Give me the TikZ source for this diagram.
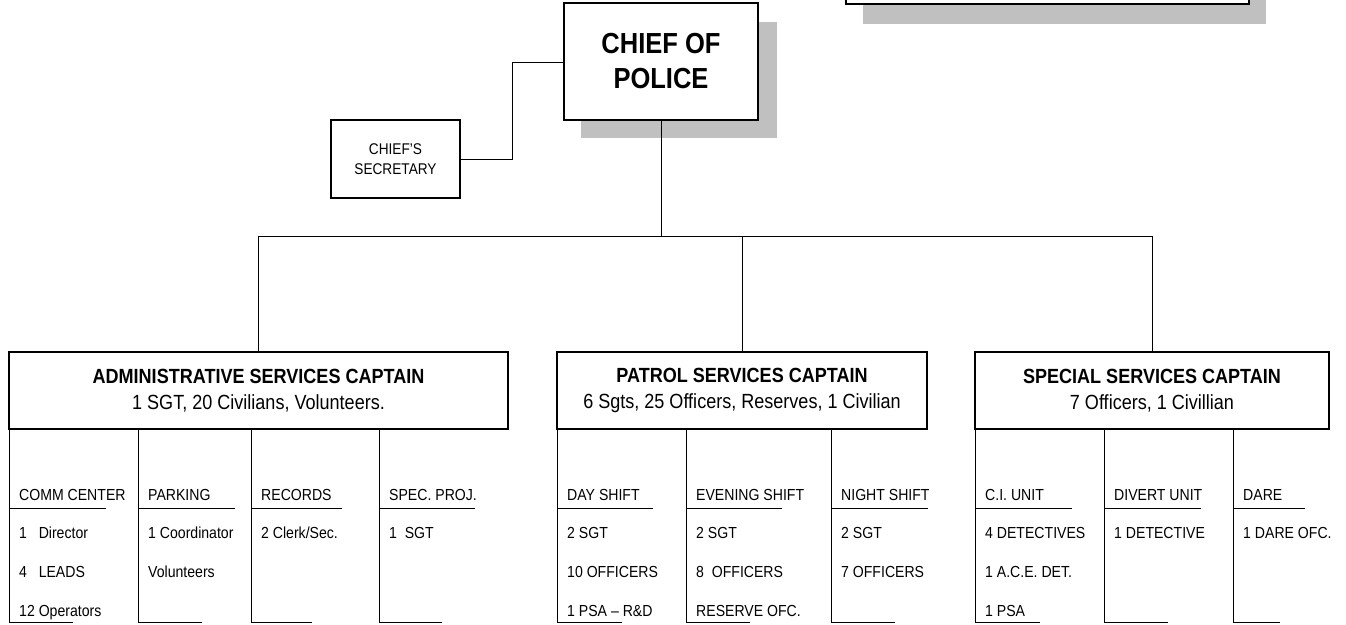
\documentclass[tikz,border=0pt]{standalone}
\usepackage{fontspec}
\setmainfont{Liberation Sans}[FakeStretch=0.88]
\definecolor{shadowgray}{RGB}{192,192,192}
\tikzset{
  box/.style={draw, line width=1.3pt, fill=white, align=center, inner sep=0pt},
  wire/.style={line width=0.9pt},
  small/.style={font=\fontsize{16}{18}\selectfont},
  item/.style={small, anchor=base west, inner sep=0pt},
  capbox/.style={box, minimum height=77, font=\fontsize{20.5}{26}\selectfont},
}

\begin{document}
\begin{tikzpicture}[x=1pt,y=-1pt]
  \clip (0,0) rectangle (1346,624);
  \fill[white] (0,0) rectangle (1346,624);
  % shadows
  \fill[shadowgray] (863,-20) rectangle (1266,24);
  \fill[shadowgray] (581,22) rectangle (777,138);
  % box at the top, cut off
  \draw[line width=1.3pt, fill=white] (846,-30) rectangle (1249,4);

  \node[box, minimum width=194, minimum height=117, font=\bfseries\fontsize{29}{35}\selectfont] (chief) at (661,61.5) {CHIEF OF\\POLICE};
  \node[box, minimum width=129, minimum height=78, font=\fontsize{15.5}{20}\selectfont] (sec) at (395.5,159) {CHIEF'S\\SECRETARY};

  \coordinate (secjoin) at (512,62);
  \draw[wire] (sec.east) -| (secjoin) -- (secjoin -| chief.west);

  % captains
  \node[capbox, minimum width=499] (admin) at (258.5,390.5) {\textbf{ADMINISTRATIVE SERVICES CAPTAIN}\\1 SGT, 20 Civilians, Volunteers.};
  \node[capbox, minimum width=370] (patrol) at (742,390.5) {\textbf{PATROL SERVICES CAPTAIN}\\6 Sgts, 25 Officers, Reserves, 1 Civilian};
  \node[capbox, minimum width=354] (special) at (1152,390.5) {\textbf{SPECIAL SERVICES CAPTAIN}\\7 Officers, 1 Civillian};

  \coordinate (bar) at (661,236);
  \draw[wire] (chief.south) -- (bar);
  \draw[wire] (admin.north) -- (admin.north |- bar) -- (special.north |- bar) -- (special.north);
  \draw[wire] (patrol.north) -- (patrol.north |- bar);

  % units
  \foreach \cx/\uw/\bw/\head in {9/97/64/COMM CENTER, 138/97/64/PARKING, 251/91/61/RECORDS, 379/96/63/SPEC. PROJ.,
      557/96/65/DAY SHIFT, 686/96/64/EVENING SHIFT, 831/97/64/NIGHT SHIFT,
      975/97/65/C.I. UNIT, 1104/97/64/DIVERT UNIT, 1233/72/47/DARE}
  {
    \draw[wire] (\cx,429) -- (\cx,622) -- ++(\bw,0);
    \draw[wire] (\cx,508) -- ++(\uw,0);
    \node[item] (head-\cx) at (\cx+10,500) {\head};
  }

  \foreach \cx/\ry/\txt [count=\i] in {9/538/1~~~Director, 9/577/4~~~LEADS, 9/616/12 Operators,
      138/538/1 Coordinator, 138/577/Volunteers, 251/538/{2 Clerk/Sec.}, 379/538/1~~SGT,
      557/538/2 SGT, 557/577/10 OFFICERS, 557/616/1 PSA -- R\&D,
      686/538/2 SGT, 686/577/8~~OFFICERS, 686/616/RESERVE OFC.,
      831/538/2 SGT, 831/577/7 OFFICERS,
      975/538/4 DETECTIVES, 975/577/1 A.C.E. DET., 975/616/1 PSA,
      1104/538/1 DETECTIVE, 1233/538/1 DARE OFC.}
    \node[item] (row-\i) at (\cx+10,\ry) {\txt};
\end{tikzpicture}
\end{document}
